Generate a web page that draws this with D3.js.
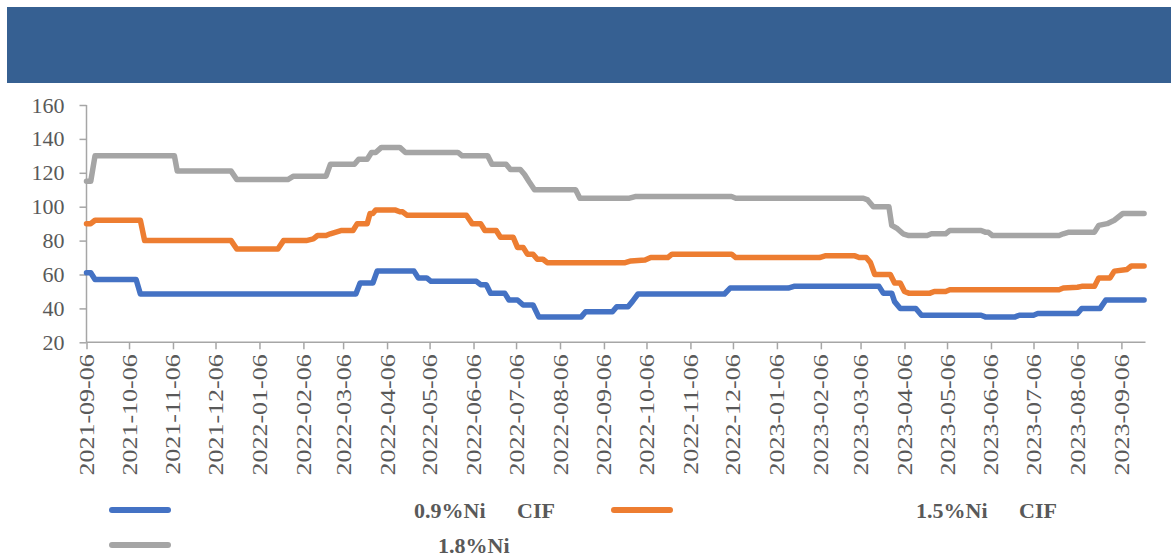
<!DOCTYPE html>
<html><head><meta charset="utf-8">
<script src="https://cdn.jsdelivr.net/npm/d3@7"></script>
<style>
html,body{margin:0;padding:0;background:#fff;}
svg{display:block;}
svg text{font-family:"Liberation Serif","Times New Roman",Times,serif;}
</style></head>
<body>
<svg id="chart" width="1171" height="557"></svg>
<script>
// ---- data ----
const tickLabels = ["2021-09-06","2021-10-06","2021-11-06","2021-12-06","2022-01-06","2022-02-06","2022-03-06","2022-04-06","2022-05-06","2022-06-06","2022-07-06","2022-08-06","2022-09-06","2022-10-06","2022-11-06","2022-12-06","2023-01-06","2023-02-06","2023-03-06","2023-04-06","2023-05-06","2023-06-06","2023-07-06","2023-08-06","2023-09-06"];
const yTicks = [20,40,60,80,100,120,140,160];
const seriesNames = ["0.9%Ni", "1.5%Ni", "1.8%Ni"];
const legendSuffix = ["CIF", "CIF", ""];

const blueDates = ["2021-09-06","2021-09-09","2021-09-12","2021-10-11","2021-10-14","2022-03-15","2022-03-18","2022-03-27","2022-03-30","2022-04-25","2022-04-28","2022-05-04","2022-05-07","2022-06-08","2022-06-11","2022-06-15","2022-06-18","2022-06-28","2022-07-01","2022-07-07","2022-07-11","2022-07-18","2022-07-22","2022-08-21","2022-08-24","2022-09-12","2022-09-15","2022-09-23","2022-09-26","2022-09-30","2022-11-30","2022-12-04","2023-01-14","2023-01-18","2023-03-19","2023-03-22","2023-03-28","2023-03-30","2023-04-03","2023-04-14","2023-04-18","2023-05-30","2023-06-02","2023-06-23","2023-06-26","2023-07-06","2023-07-09","2023-08-06","2023-08-09","2023-08-22","2023-08-26","2023-09-22"];
const blueValues = [61,61,57,57,48.5,48.5,55,55,62,62,58,58,56,56,54,54,49,49,45,45,42,42,35,35,38,38,41,41,44,48.5,48.5,52,52,53,53,49,49,44,40,40,36,36,35,35,36,36,37,37,40,40,45,45];

const orangeDates = ["2021-09-06","2021-09-09","2021-09-12","2021-10-14","2021-10-17","2021-12-17","2021-12-21","2022-01-19","2022-01-23","2022-02-08","2022-02-13","2022-02-16","2022-02-22","2022-02-25","2022-03-01","2022-03-05","2022-03-13","2022-03-16","2022-03-23","2022-03-25","2022-03-27","2022-03-29","2022-04-12","2022-04-15","2022-04-17","2022-04-20","2022-06-01","2022-06-05","2022-06-11","2022-06-14","2022-06-22","2022-06-25","2022-07-04","2022-07-07","2022-07-11","2022-07-14","2022-07-18","2022-07-21","2022-07-25","2022-07-28","2022-09-21","2022-09-25","2022-10-05","2022-10-09","2022-10-21","2022-10-24","2022-12-05","2022-12-08","2023-02-05","2023-02-09","2023-03-02","2023-03-05","2023-03-10","2023-03-13","2023-03-16","2023-03-27","2023-03-30","2023-04-03","2023-04-06","2023-04-09","2023-04-24","2023-04-27","2023-05-05","2023-05-08","2023-07-24","2023-07-27","2023-08-06","2023-08-09","2023-08-18","2023-08-21","2023-08-29","2023-09-01","2023-09-10","2023-09-13","2023-09-22"];
const orangeValues = [90,90,92,92,80,80,75,75,80,80,81,83,83,84,85,86,86,90,90,96,96,98,98,97,97,95,95,90,90,86,86,82,82,76,76,72,72,69,69,67,67,68,68.5,70,70,72,72,70,70,71,71,70,70,67,60,60,55,55,50,49,49,50,50,51,51,52,52.5,53,53,58,58,62,63,65,65];

const grayDates = ["2021-09-06","2021-09-09","2021-09-12","2021-11-07","2021-11-09","2021-12-17","2021-12-21","2022-01-26","2022-01-30","2022-02-22","2022-02-25","2022-03-14","2022-03-17","2022-03-23","2022-03-26","2022-03-29","2022-04-02","2022-04-15","2022-04-19","2022-05-26","2022-05-29","2022-06-16","2022-06-19","2022-06-29","2022-07-02","2022-07-09","2022-07-12","2022-07-15","2022-07-19","2022-08-17","2022-08-20","2022-09-24","2022-09-28","2022-12-05","2022-12-08","2023-03-08","2023-03-11","2023-03-15","2023-03-26","2023-03-28","2023-04-01","2023-04-05","2023-04-09","2023-04-22","2023-04-25","2023-05-05","2023-05-08","2023-05-30","2023-06-02","2023-06-04","2023-06-07","2023-07-24","2023-07-27","2023-07-31","2023-08-18","2023-08-21","2023-08-27","2023-09-01","2023-09-07","2023-09-22"];
const grayValues = [115,115,130,130,121,121,116,116,118,118,125,125,128,128,132,132,135,135,132,132,130,130,125,125,122,122,119,115,110,110,105,105,106,106,105,105,104,100,100,89,87,84,83,83,84,84,86,86,85,85,83,83,84,85,85,89,90,92,96,96];

const colors = ["#4472C4", "#ED7D31", "#A5A5A5"];

// ---- chart ----
const parse = d3.timeParse("%Y-%m-%d");
const svg = d3.select("#chart");
const serif = "Liberation Serif";

svg.append("rect").attr("x", 7).attr("y", 7).attr("width", 1164).attr("height", 76).attr("fill", "#366092");

const x = d3.scaleTime().domain([parse("2021-09-06"), parse("2023-09-23")]).range([86.5, 1145.5]);
const y = d3.scaleLinear().domain([20, 160]).range([342.3, 105]);

const axisColor = "#A6A6A6";
const textColor = "#595959";

// y axis
const yAxis = svg.append("g").attr("transform", `translate(${x.range()[0]},0)`)
  .call(d3.axisLeft(y).tickValues(yTicks).tickSize(7).tickFormat(d3.format("d")));
yAxis.attr("font-family", serif).attr("font-size", 22);
yAxis.selectAll("path,line").attr("stroke", axisColor).attr("stroke-width", 1.5);
yAxis.select(".domain").attr("d", `M0,${y(160)}V${y(20)}`);
yAxis.selectAll("text").attr("fill", textColor).attr("x", -22);

// x axis
const xAxis = svg.append("g").attr("transform", `translate(0,${y(20)})`)
  .call(d3.axisBottom(x).tickValues(tickLabels.map(parse)).tickSize(7).tickFormat(d3.timeFormat("%Y-%m-%d")));
xAxis.attr("font-family", serif).attr("font-size", 20);
xAxis.selectAll("path,line").attr("stroke", axisColor).attr("stroke-width", 1.5);
xAxis.select(".domain").attr("d", `M${x.range()[0]},0H${x.range()[1]}`);
xAxis.selectAll("text")
  .attr("fill", textColor)
  .attr("text-anchor", "end").attr("dy", "0.35em")
  .attr("transform", "translate(0,12) rotate(-90) scale(1.3,1)").attr("x", 0).attr("y", 0);

// lines
const line = d3.line().x(d => x(d[0])).y(d => y(d[1]));
const series = [
  blueDates.map((d, i) => [parse(d), blueValues[i]]),
  orangeDates.map((d, i) => [parse(d), orangeValues[i]]),
  grayDates.map((d, i) => [parse(d), grayValues[i]])
];
series.forEach((s, i) => {
  svg.append("path").datum(s).attr("d", line)
    .attr("fill", "none").attr("stroke", colors[i]).attr("stroke-width", 5.5)
    .attr("stroke-linejoin", "round").attr("stroke-linecap", "round");
});

// legend
const legendItems = [
  {lx: 112, ly: 510, tx: 414, sx: 517},
  {lx: 614, ly: 510, tx: 916, sx: 1019},
  {lx: 112, ly: 545, tx: 438, sx: null}
];
legendItems.forEach((it, i) => {
  svg.append("line").attr("x1", it.lx).attr("x2", it.lx + 56).attr("y1", it.ly).attr("y2", it.ly)
    .attr("stroke", colors[i]).attr("stroke-width", 6).attr("stroke-linecap", "round");
  const t = svg.append("text").attr("y", it.ly + 8).attr("fill", textColor)
    .attr("font-family", serif).attr("font-size", 22).attr("font-weight", "bold");
  t.append("tspan").attr("x", it.tx).text(seriesNames[i]);
  if (it.sx !== null) t.append("tspan").attr("x", it.sx).text(legendSuffix[i]);
});
</script>
</body></html>
